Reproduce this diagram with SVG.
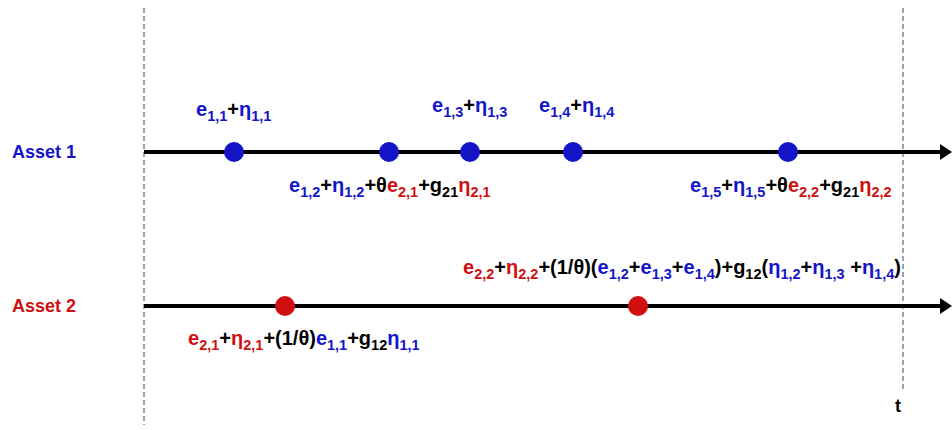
<svg xmlns="http://www.w3.org/2000/svg" width="952" height="430" viewBox="0 0 952 430">
<style>
text{font-family:"Liberation Sans",Arial,sans-serif;font-weight:bold;font-size:20px;fill:#000}
.b{fill:#1414C8}.r{fill:#D01010}
.s{font-size:14.5px}
.dash{stroke:#444;stroke-width:1;stroke-dasharray:5,3;fill:none}
.axis{stroke:#000;stroke-width:4;fill:none}
.db{fill:#1414C8}.dr{fill:#D01010}
</style>
<defs>
<marker id="arr" markerWidth="4" markerHeight="4" refX="1" refY="2" orient="auto" markerUnits="strokeWidth"><path d="M0,0 L3,2 L0,4 Z" fill="#000"/></marker>
</defs>
<rect width="952" height="430" fill="#fff"/>
<g id="connectors">
<line class="dash" x1="144" y1="8" x2="144" y2="425"/>
<line class="dash" x1="903" y1="8" x2="903" y2="390"/>
<line class="axis" x1="144" y1="152" x2="944" y2="152" marker-end="url(#arr)"/>
<line class="axis" x1="144" y1="306" x2="944" y2="306" marker-end="url(#arr)"/>
</g>
<g id="asset1-label"><text x="12" y="158" class="b" style="font-size:18px">Asset 1</text></g>
<g id="asset2-label"><text x="12" y="312" class="r" style="font-size:18px">Asset 2</text></g>
<g id="t-label"><text x="895" y="412" style="font-size:18px">t</text></g>
<g id="n11"><circle class="db" cx="234" cy="152" r="10"/>
<text x="196" y="116"><tspan class="b">e</tspan><tspan class="b s" dy="5">1,1</tspan><tspan dy="-5">+</tspan><tspan class="b">η</tspan><tspan class="b s" dy="5">1,1</tspan></text></g>
<g id="n12"><circle class="db" cx="389" cy="152" r="10"/>
<text x="289" y="192"><tspan class="b">e</tspan><tspan class="b s" dy="5">1,2</tspan><tspan dy="-5">+</tspan><tspan class="b">η</tspan><tspan class="b s" dy="5">1,2</tspan><tspan dy="-5">+θ</tspan><tspan class="r">e</tspan><tspan class="r s" dy="5">2,1</tspan><tspan dy="-5">+g</tspan><tspan class="s" dy="5">21</tspan><tspan class="r" dy="-5">η</tspan><tspan class="r s" dy="5">2,1</tspan></text></g>
<g id="n13"><circle class="db" cx="470" cy="152" r="10"/>
<text x="432" y="112"><tspan class="b">e</tspan><tspan class="b s" dy="5">1,3</tspan><tspan dy="-5">+</tspan><tspan class="b">η</tspan><tspan class="b s" dy="5">1,3</tspan></text></g>
<g id="n14"><circle class="db" cx="573" cy="152" r="10"/>
<text x="539" y="112"><tspan class="b">e</tspan><tspan class="b s" dy="5">1,4</tspan><tspan dy="-5">+</tspan><tspan class="b">η</tspan><tspan class="b s" dy="5">1,4</tspan></text></g>
<g id="n15"><circle class="db" cx="788" cy="152" r="10"/>
<text x="690" y="192"><tspan class="b">e</tspan><tspan class="b s" dy="5">1,5</tspan><tspan dy="-5">+</tspan><tspan class="b">η</tspan><tspan class="b s" dy="5">1,5</tspan><tspan dy="-5">+θ</tspan><tspan class="r">e</tspan><tspan class="r s" dy="5">2,2</tspan><tspan dy="-5">+g</tspan><tspan class="s" dy="5">21</tspan><tspan class="r" dy="-5">η</tspan><tspan class="r s" dy="5">2,2</tspan></text></g>
<g id="n21"><circle class="dr" cx="285" cy="306" r="10"/>
<text x="188" y="345"><tspan class="r">e</tspan><tspan class="r s" dy="5">2,1</tspan><tspan dy="-5">+</tspan><tspan class="r">η</tspan><tspan class="r s" dy="5">2,1</tspan><tspan dy="-5">+(1/θ)</tspan><tspan class="b">e</tspan><tspan class="b s" dy="5">1,1</tspan><tspan dy="-5">+g</tspan><tspan class="s" dy="5">12</tspan><tspan class="b" dy="-5">η</tspan><tspan class="b s" dy="5">1,1</tspan></text></g>
<g id="n22"><circle class="dr" cx="638" cy="306" r="10"/>
<text x="463" y="274"><tspan class="r">e</tspan><tspan class="r s" dy="5">2,2</tspan><tspan dy="-5">+</tspan><tspan class="r">η</tspan><tspan class="r s" dy="5">2,2</tspan><tspan dy="-5">+(1/θ)(</tspan><tspan class="b">e</tspan><tspan class="b s" dy="5">1,2</tspan><tspan dy="-5">+</tspan><tspan class="b">e</tspan><tspan class="b s" dy="5">1,3</tspan><tspan dy="-5">+</tspan><tspan class="b">e</tspan><tspan class="b s" dy="5">1,4</tspan><tspan dy="-5">)+g</tspan><tspan class="s" dy="5">12</tspan><tspan dy="-5">(</tspan><tspan class="b">η</tspan><tspan class="b s" dy="5">1,2</tspan><tspan dy="-5">+</tspan><tspan class="b">η</tspan><tspan class="b s" dy="5">1,3</tspan><tspan dy="-5"> +</tspan><tspan class="b">η</tspan><tspan class="b s" dy="5">1,4</tspan><tspan dy="-5">)</tspan></text></g>
</svg>
